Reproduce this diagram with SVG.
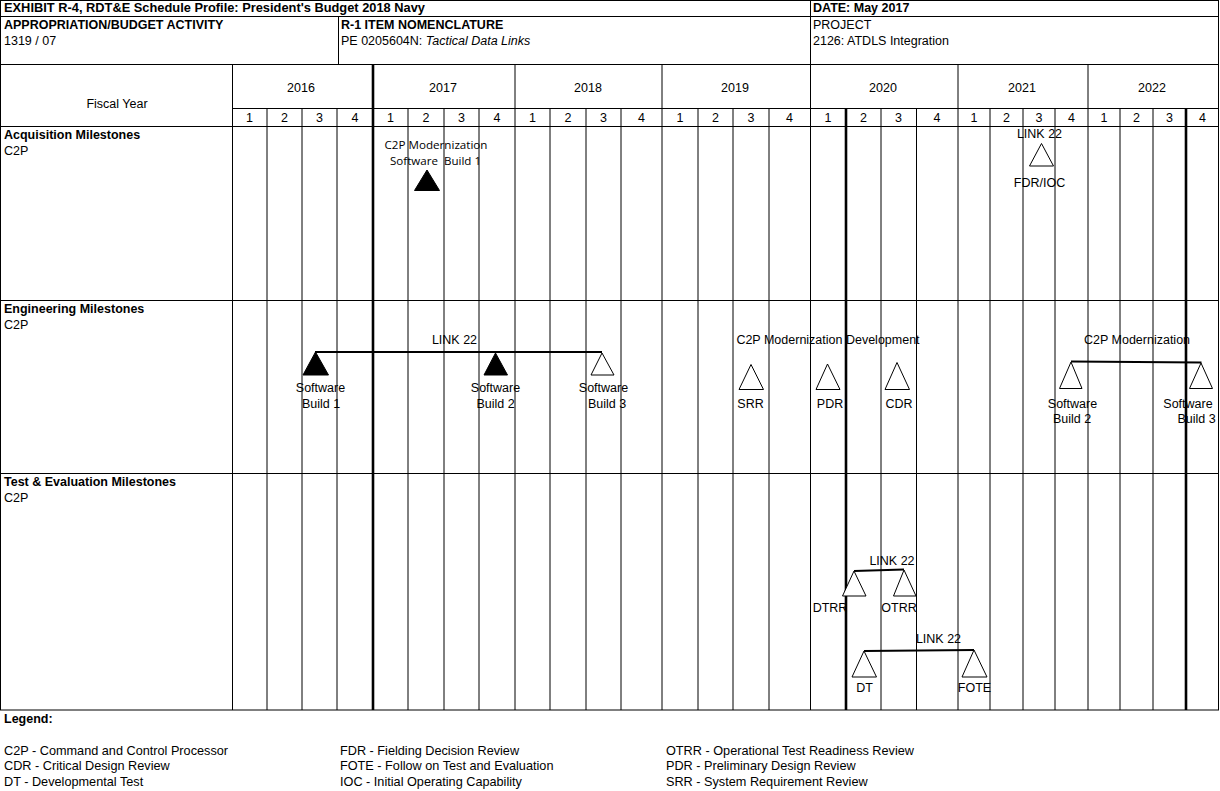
<svg xmlns="http://www.w3.org/2000/svg" width="1220" height="791" viewBox="0 0 1220 791">
<style>
text{font-family:"Liberation Sans",Arial,sans-serif;font-size:12.5px;fill:#000}
.b{font-weight:bold}
.c{text-anchor:middle}
.lg{font-size:12.7px}
.cal{font-family:"Open Sans","Liberation Sans",sans-serif;font-size:11px}
.g{stroke:#000;stroke-width:1;fill:none}
.gk{stroke:#000;stroke-width:2.6;fill:none}
.to{fill:#fff;stroke:#000;stroke-width:1}
.tf{fill:#000;stroke:#000;stroke-width:1}
.bar{stroke:#000;stroke-width:2.2;fill:none}
</style>
<rect x="0" y="0" width="1220" height="791" fill="#fff"/>
<g id="frame">
<rect class="g" x="0.5" y="0.5" width="1218" height="709.5"/>
<line class="g" x1="0" y1="16.5" x2="1219" y2="16.5"/>
<line class="g" x1="0" y1="64.5" x2="1219" y2="64.5"/>
<line class="g" x1="810.5" y1="0" x2="810.5" y2="64"/>
<line class="g" x1="338.5" y1="16" x2="338.5" y2="64"/>
<line class="g" x1="232" y1="108.5" x2="1219" y2="108.5"/>
<line class="g" x1="0" y1="126.5" x2="1219" y2="126.5"/>
<line class="g" x1="0" y1="300.5" x2="1219" y2="300.5"/>
<line class="g" x1="0" y1="473.5" x2="1219" y2="473.5"/>
<line class="g" x1="232.5" y1="64" x2="232.5" y2="710"/>
<line class="gk" x1="373" y1="64" x2="373" y2="710"/>
<line class="g" x1="515" y1="64" x2="515" y2="710"/>
<line class="g" x1="662" y1="64" x2="662" y2="710"/>
<line class="g" x1="810.5" y1="64" x2="810.5" y2="710"/>
<line class="g" x1="958" y1="64" x2="958" y2="710"/>
<line class="g" x1="1088" y1="64" x2="1088" y2="710"/>
<g>
<line class="g" x1="267" y1="108" x2="267" y2="710"/>
<line class="g" x1="302" y1="108" x2="302" y2="710"/>
<line class="g" x1="337" y1="108" x2="337" y2="710"/>
<line class="g" x1="408" y1="108" x2="408" y2="710"/>
<line class="g" x1="444" y1="108" x2="444" y2="710"/>
<line class="g" x1="479" y1="108" x2="479" y2="710"/>
<line class="g" x1="550" y1="108" x2="550" y2="710"/>
<line class="g" x1="586" y1="108" x2="586" y2="710"/>
<line class="g" x1="621" y1="108" x2="621" y2="710"/>
<line class="g" x1="698" y1="108" x2="698" y2="710"/>
<line class="g" x1="733" y1="108" x2="733" y2="710"/>
<line class="g" x1="769" y1="108" x2="769" y2="710"/>
<line class="gk" x1="846" y1="108" x2="846" y2="710"/>
<line class="g" x1="881" y1="108" x2="881" y2="710"/>
<line class="g" x1="916.5" y1="108" x2="916.5" y2="710"/>
<line class="g" x1="990" y1="108" x2="990" y2="710"/>
<line class="g" x1="1023" y1="108" x2="1023" y2="710"/>
<line class="g" x1="1055" y1="108" x2="1055" y2="710"/>
<line class="g" x1="1120" y1="108" x2="1120" y2="710"/>
<line class="g" x1="1153" y1="108" x2="1153" y2="710"/>
<line class="gk" x1="1186" y1="108" x2="1186" y2="710"/>
</g>
</g>
<g id="header">
<text class="b" x="4" y="12" textLength="421" lengthAdjust="spacingAndGlyphs">EXHIBIT R-4, RDT&amp;E Schedule Profile: President's Budget 2018 Navy</text>
<text class="b" x="813" y="12">DATE: May 2017</text>
<text class="b" x="4" y="29">APPROPRIATION/BUDGET ACTIVITY</text>
<text x="4" y="45">1319 / 07</text>
<text class="b" x="341" y="29">R-1 ITEM NOMENCLATURE</text>
<text x="341" y="45">PE 0205604N: <tspan font-style="italic">Tactical Data Links</tspan></text>
<text x="813" y="29">PROJECT</text>
<text x="813" y="45">2126: ATDLS Integration</text>
<text class="c" x="117" y="107.5">Fiscal Year</text>
</g>
<g id="years">
<text class="c" x="301" y="91.5">2016</text>
<text class="c" x="443" y="91.5">2017</text>
<text class="c" x="588" y="91.5">2018</text>
<text class="c" x="735" y="91.5">2019</text>
<text class="c" x="883" y="91.5">2020</text>
<text class="c" x="1022" y="91.5">2021</text>
<text class="c" x="1152" y="91.5">2022</text>
</g>
<g id="quarters">
<text class="c" x="249.5" y="122">1</text><text class="c" x="284.5" y="122">2</text><text class="c" x="319.5" y="122">3</text><text class="c" x="355" y="122">4</text>
<text class="c" x="390.5" y="122">1</text><text class="c" x="426" y="122">2</text><text class="c" x="461.5" y="122">3</text><text class="c" x="497" y="122">4</text>
<text class="c" x="532.5" y="122">1</text><text class="c" x="568" y="122">2</text><text class="c" x="603.5" y="122">3</text><text class="c" x="641.5" y="122">4</text>
<text class="c" x="680" y="122">1</text><text class="c" x="715.5" y="122">2</text><text class="c" x="751" y="122">3</text><text class="c" x="789.5" y="122">4</text>
<text class="c" x="828" y="122">1</text><text class="c" x="863.5" y="122">2</text><text class="c" x="898.5" y="122">3</text><text class="c" x="937" y="122">4</text>
<text class="c" x="974" y="122">1</text><text class="c" x="1006.5" y="122">2</text><text class="c" x="1039" y="122">3</text><text class="c" x="1071.5" y="122">4</text>
<text class="c" x="1104" y="122">1</text><text class="c" x="1136.5" y="122">2</text><text class="c" x="1169.5" y="122">3</text><text class="c" x="1202.5" y="122">4</text>
</g>
<g id="row-labels">
<text class="b" x="4" y="138.5">Acquisition Milestones</text>
<text x="4" y="154.5">C2P</text>
<text class="b" x="4" y="312.5">Engineering Milestones</text>
<text x="4" y="328.5">C2P</text>
<text class="b" x="4" y="485.5">Test &amp; Evaluation Milestones</text>
<text x="4" y="501.5">C2P</text>
</g>
<g id="connectors">
<line class="bar" x1="315" y1="352" x2="602" y2="352" stroke-width="3"/>
<line class="bar" x1="1071" y1="361.5" x2="1201.5" y2="362.5"/>
<line class="bar" x1="854" y1="571" x2="904" y2="569.5"/>
<line class="bar" x1="864" y1="651" x2="974" y2="650"/>
</g>
<g id="acq-c2p-sw1">
<text class="cal c" x="436" y="149" textLength="103" lengthAdjust="spacingAndGlyphs">C2P Modernization</text>
<text class="cal c" x="435.5" y="165" textLength="91" lengthAdjust="spacingAndGlyphs" xml:space="preserve">Software  Build 1</text>
<polygon class="tf" points="427,170 414.5,190.5 439.5,190.5"/>
</g>
<g id="acq-fdr-ioc">
<text class="c" x="1039.5" y="137.5">LINK 22</text>
<polygon class="to" points="1041.5,143.5 1029.5,166 1053.5,166"/>
<text class="c" x="1039.5" y="186.5">FDR/IOC</text>
</g>
<g id="eng-link22">
<text class="c" x="454.5" y="343.5">LINK 22</text>
</g>
<g id="eng-sw1">
<polygon class="tf" points="315.5,352 303,375 328.5,375"/>
<text class="c" x="320.5" y="391.5">Software</text>
<text class="c" x="321" y="407.5">Build 1</text>
</g>
<g id="eng-sw2">
<polygon class="tf" points="495.5,353 484,375 507.5,375"/>
<text class="c" x="495.5" y="391.5">Software</text>
<text class="c" x="495.5" y="407.5">Build 2</text>
</g>
<g id="eng-sw3">
<polygon class="to" points="602,353 591,375 614,375"/>
<text class="c" x="603.5" y="391.5">Software</text>
<text class="c" x="607" y="407.5">Build 3</text>
</g>
<g id="eng-c2p-dev">
<text class="c" x="828" y="343.5">C2P Modernization Development</text>
</g>
<g id="eng-srr">
<polygon class="to" points="751,364.5 739,389.5 763.5,389.5"/>
<text class="c" x="750.5" y="407.5">SRR</text>
</g>
<g id="eng-pdr">
<polygon class="to" points="827.5,364 816,389.5 840,389.5"/>
<text class="c" x="830" y="407.5">PDR</text>
</g>
<g id="eng-cdr">
<polygon class="to" points="897,362.5 885,389.5 909.5,389.5"/>
<text class="c" x="899" y="407.5">CDR</text>
</g>
<g id="eng-c2p-mod">
<text class="c" x="1137" y="343.5">C2P Modernization</text>
</g>
<g id="eng-mod-sw2">
<polygon class="to" points="1071,362 1059.5,388.5 1082,388.5"/>
<text class="c" x="1072.5" y="407.5">Software</text>
<text class="c" x="1072" y="422.5">Build 2</text>
</g>
<g id="eng-mod-sw3">
<polygon class="to" points="1201,363 1189.5,388.5 1212.5,388.5"/>
<text class="c" x="1188" y="407.5">Software</text>
<text class="c" x="1196.5" y="422.5">Build 3</text>
</g>
<g id="te-link22-a">
<text class="c" x="892" y="564.5">LINK 22</text>
</g>
<g id="te-dtrr">
<polygon class="to" points="854,571 842.5,596 866,596"/>
<text class="c" x="830" y="611.5">DTRR</text>
</g>
<g id="te-otrr">
<polygon class="to" points="904,570 893.5,596 916,596"/>
<text class="c" x="899" y="611.5">OTRR</text>
</g>
<g id="te-link22-b">
<text class="c" x="938.5" y="642.5">LINK 22</text>
</g>
<g id="te-dt">
<polygon class="to" points="864,651 852,677 876.5,677"/>
<text class="c" x="864.5" y="691.5">DT</text>
</g>
<g id="te-fote">
<polygon class="to" points="974,650 962,677 987,677"/>
<text class="c" x="974.5" y="691.5">FOTE</text>
</g>
<g id="legend">
<text class="b" x="4" y="722.5">Legend:</text>
<text class="lg" x="4" y="754.5">C2P - Command and Control Processor</text>
<text class="lg" x="4" y="770">CDR - Critical Design Review</text>
<text class="lg" x="4" y="785.5">DT - Developmental Test</text>
<text class="lg" x="340" y="754.5">FDR - Fielding Decision Review</text>
<text class="lg" x="340" y="770">FOTE - Follow on Test and Evaluation</text>
<text class="lg" x="340" y="785.5">IOC - Initial Operating Capability</text>
<text class="lg" x="666" y="754.5">OTRR - Operational Test Readiness Review</text>
<text class="lg" x="666" y="770">PDR - Preliminary Design Review</text>
<text class="lg" x="666" y="785.5">SRR - System Requirement Review</text>
</g>
</svg>
